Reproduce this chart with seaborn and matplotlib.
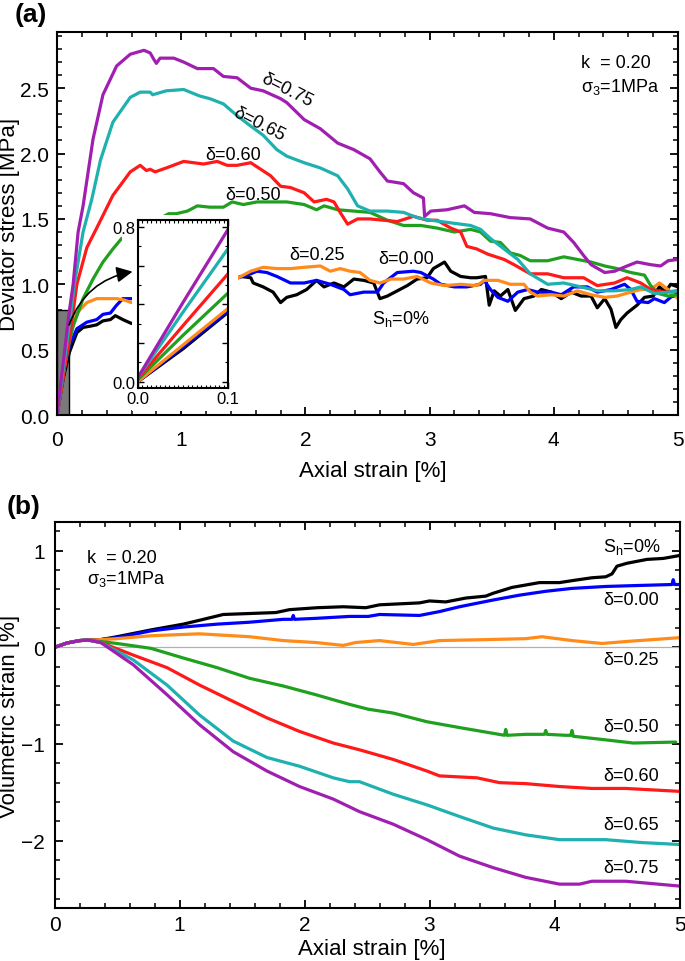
import numpy as np
import pandas as pd
import matplotlib
matplotlib.use("Agg")
import matplotlib.pyplot as plt
import seaborn as sns
from matplotlib.patches import Rectangle, FancyArrowPatch
from matplotlib.ticker import MultipleLocator, FixedLocator, FuncFormatter

# ---------------- series definitions ----------------
names = ["Sh=0%", "d=0.00", "d=0.25", "d=0.50", "d=0.60", "d=0.65", "d=0.75"]
colors = ["#000000", "#0000FF", "#FF8C1A", "#1FA01F", "#FF1A1A", "#1FB0B0", "#A01FB0"]

# ---------------- panel (a): deviator stress ----------------
a_x_sh0 = [0, 0.05, 0.10, 0.16, 0.21, 0.27, 0.32, 0.37, 0.43, 0.47, 0.53, 0.60,
           1.48, 1.56, 1.58, 1.66, 1.74, 1.80, 1.85, 1.93, 2.01, 2.09, 2.15, 2.23, 2.31, 2.39,
           2.47, 2.55, 2.60, 2.66, 2.74, 2.82, 2.90, 2.98, 3.03, 3.12, 3.17, 3.25, 3.33, 3.38,
           3.45, 3.48, 3.52, 3.57, 3.63, 3.69, 3.76, 3.84, 3.90, 3.98, 4.06, 4.14, 4.22, 4.30,
           4.35, 4.41, 4.46, 4.50, 4.54, 4.59, 4.67, 4.73, 4.80, 4.85, 4.90, 4.94, 5.0]
a_y_sh0 = [0, 0.28, 0.48, 0.63, 0.67, 0.68, 0.69, 0.72, 0.73, 0.76, 0.73, 0.70,
           1.06, 1.05, 1.01, 0.98, 0.94, 0.86, 0.90, 0.92, 0.96, 1.03, 0.98, 1.01, 0.98, 1.04,
           1.03, 1.01, 0.89, 0.91, 0.95, 0.99, 1.04, 1.05, 1.12, 1.17, 1.10, 1.06, 1.05, 1.05,
           1.06, 0.84, 0.95, 0.91, 0.96, 0.80, 0.89, 0.91, 0.96, 0.94, 0.89, 0.94, 0.91, 0.91,
           0.82, 0.89, 0.81, 0.67, 0.73, 0.78, 0.84, 0.90, 0.91, 0.98, 0.94, 1.00, 0.98]

a_x_d000 = [0, 0.05, 0.10, 0.16, 0.24, 0.32, 0.37, 0.43, 0.48, 0.53, 0.60,
            1.46, 1.56, 1.61, 1.69, 1.77, 1.88, 1.99, 2.09, 2.20, 2.31, 2.36, 2.47, 2.58, 2.63,
            2.74, 2.87, 2.93, 3.03, 3.09, 3.20, 3.30, 3.41, 3.44, 3.49, 3.55, 3.63, 3.71, 3.79,
            3.87, 3.98, 4.06, 4.16, 4.27, 4.35, 4.46, 4.57, 4.62, 4.67, 4.76, 4.81, 4.89, 4.94, 5.0]
a_y_d000 = [0, 0.33, 0.53, 0.66, 0.71, 0.73, 0.77, 0.78, 0.84, 0.89, 0.89,
            1.05, 1.08, 1.10, 1.09, 1.06, 1.01, 1.01, 1.03, 1.00, 0.96, 0.92, 0.94, 0.94, 1.01,
            1.09, 1.10, 1.09, 1.04, 1.00, 0.98, 0.98, 1.00, 1.03, 0.96, 0.90, 0.87, 0.94, 0.96,
            0.94, 0.94, 0.92, 0.98, 0.98, 0.94, 0.96, 1.00, 0.96, 0.87, 0.86, 0.89, 0.86, 0.90, 0.94]

a_x_d025 = [0, 0.05, 0.10, 0.16, 0.24, 0.32, 0.40, 0.48, 0.54, 0.60,
            1.46, 1.56, 1.66, 1.77, 1.88, 1.99, 2.12, 2.20, 2.28, 2.36, 2.44, 2.52, 2.60, 2.69,
            2.79, 2.90, 3.01, 3.12, 3.25, 3.38, 3.44, 3.55, 3.65, 3.76, 3.81, 3.87, 3.98, 4.08,
            4.19, 4.30, 4.41, 4.51, 4.62, 4.70, 4.78, 4.85, 4.92, 5.0]
a_y_d025 = [0, 0.30, 0.60, 0.78, 0.86, 0.89, 0.89, 0.89, 0.88, 0.86,
            1.05, 1.10, 1.13, 1.12, 1.12, 1.13, 1.14, 1.10, 1.12, 1.10, 1.09, 1.03, 1.01, 1.04,
            1.04, 1.06, 1.01, 0.99, 1.00, 0.99, 1.03, 1.03, 1.00, 1.00, 0.94, 0.91, 0.92, 0.91,
            0.95, 0.92, 0.90, 0.91, 0.94, 0.96, 0.96, 1.01, 0.96, 0.89]

a_x_d050 = [0, 0.05, 0.10, 0.13, 0.21, 0.29, 0.37, 0.45, 0.52,
            0.90, 0.96, 1.05, 1.13, 1.23, 1.34, 1.41, 1.50, 1.61, 1.72, 1.85, 1.99, 2.09, 2.15,
            2.26, 2.39, 2.52, 2.66, 2.79, 2.93, 3.06, 3.20, 3.33, 3.41, 3.49, 3.57, 3.65, 3.73,
            3.81, 3.95, 4.08, 4.19, 4.30, 4.41, 4.51, 4.62, 4.73, 4.78, 4.84, 4.92, 5.0]
a_y_d050 = [0, 0.33, 0.56, 0.68, 0.89, 1.04, 1.17, 1.27, 1.35,
            1.54, 1.54, 1.56, 1.60, 1.59, 1.59, 1.63, 1.61, 1.63, 1.63, 1.63, 1.61, 1.57, 1.60,
            1.57, 1.56, 1.55, 1.49, 1.45, 1.45, 1.43, 1.40, 1.42, 1.40, 1.33, 1.32, 1.24, 1.22,
            1.18, 1.18, 1.21, 1.19, 1.17, 1.14, 1.12, 1.09, 1.07, 0.99, 0.93, 0.91, 0.92]

a_x_d060 = [0, 0.05, 0.10, 0.16, 0.24, 0.33, 0.45, 0.59, 0.67, 0.72, 0.75, 0.79, 0.88,
            1.02, 1.10, 1.18, 1.29, 1.37, 1.45, 1.56, 1.64, 1.72, 1.80, 1.88, 1.99, 2.07, 2.17,
            2.23, 2.28, 2.34, 2.42, 2.52, 2.63, 2.74, 2.87, 2.98, 3.06, 3.17, 3.25, 3.30, 3.38,
            3.47, 3.60, 3.68, 3.81, 3.95, 4.08, 4.24, 4.35, 4.49, 4.59, 4.70, 4.78, 4.89, 5.0]
a_y_d060 = [0, 0.30, 0.58, 1.00, 1.28, 1.45, 1.68, 1.86, 1.91, 1.87, 1.88, 1.86, 1.89,
            1.94, 1.93, 1.92, 1.94, 1.91, 1.91, 1.93, 1.88, 1.83, 1.75, 1.74, 1.70, 1.63, 1.65,
            1.63, 1.55, 1.46, 1.50, 1.50, 1.49, 1.48, 1.52, 1.49, 1.49, 1.43, 1.40, 1.29, 1.27,
            1.23, 1.19, 1.15, 1.08, 1.08, 1.05, 1.05, 0.99, 1.01, 1.05, 1.01, 0.96, 0.94, 0.95]

a_x_d065 = [0, 0.05, 0.10, 0.14, 0.21, 0.28, 0.35, 0.45, 0.59, 0.67, 0.75, 0.77, 0.88,
            1.02, 1.15, 1.23, 1.34, 1.45, 1.56, 1.66, 1.77, 1.85, 1.99, 2.12, 2.26, 2.34, 2.42,
            2.52, 2.66, 2.79, 2.90, 3.01, 3.17, 3.33, 3.41, 3.49, 3.60, 3.71, 3.81, 3.95, 4.08,
            4.22, 4.35, 4.49, 4.62, 4.70, 4.81, 4.92, 5.0]
a_y_d065 = [0, 0.35, 0.70, 1.00, 1.40, 1.65, 1.95, 2.24, 2.43, 2.47, 2.47, 2.45, 2.48,
            2.49, 2.44, 2.42, 2.38, 2.29, 2.21, 2.14, 2.03, 1.98, 1.93, 1.89, 1.83, 1.73, 1.60,
            1.56, 1.56, 1.55, 1.51, 1.49, 1.47, 1.45, 1.42, 1.35, 1.27, 1.19, 1.08, 1.00, 1.01,
            0.98, 0.95, 0.95, 0.96, 0.98, 0.93, 0.94, 0.95]

a_x_d075 = [0, 0.05, 0.10, 0.13, 0.17, 0.21, 0.29, 0.37, 0.48, 0.59, 0.70, 0.75, 0.78,
            0.80, 0.83, 0.94, 1.02, 1.13, 1.26, 1.34, 1.45, 1.56, 1.66, 1.80, 1.85, 1.99, 2.12,
            2.26, 2.39, 2.52, 2.60, 2.66, 2.79, 2.87, 2.95, 2.96, 3.01, 3.14, 3.28, 3.36, 3.49,
            3.65, 3.81, 3.95, 4.08, 4.16, 4.24, 4.30, 4.41, 4.49, 4.59, 4.67, 4.78, 4.86, 4.92, 5.0]
a_y_d075 = [0, 0.40, 0.80, 1.00, 1.40, 1.60, 2.11, 2.45, 2.67, 2.76, 2.79, 2.77, 2.72,
            2.69, 2.73, 2.73, 2.70, 2.65, 2.65, 2.59, 2.58, 2.50, 2.48, 2.42, 2.39, 2.26, 2.19,
            2.08, 2.03, 1.96, 1.86, 1.79, 1.77, 1.70, 1.66, 1.52, 1.56, 1.57, 1.60, 1.55, 1.54,
            1.51, 1.50, 1.43, 1.40, 1.32, 1.22, 1.15, 1.09, 1.10, 1.14, 1.17, 1.15, 1.14, 1.18, 1.19]

# ---------------- inset (initial part of panel a) ----------------
in_x = [0, 0.05, 0.10]
in_y_sh0 = [0.0, 0.17, 0.36]
in_y_d000 = [0.0, 0.18, 0.367]
in_y_d025 = [0.0, 0.19, 0.38]
in_y_d050 = [0.01, 0.24, 0.46]
in_y_d060 = [0.015, 0.29, 0.56]
in_y_d065 = [0.02, 0.36, 0.69]
in_y_d075 = [0.02, 0.41, 0.79]

# ---------------- panel (b): volumetric strain ----------------
b_x_sh0 = [0, 0.1, 0.2, 0.27, 0.37, 0.5, 0.77, 1.03, 1.16, 1.35, 1.56, 1.77, 1.88, 2.1, 2.31,
           2.49, 2.60, 2.92, 3.0, 3.13, 3.29, 3.45, 3.51, 3.66, 3.88, 4.04, 4.14, 4.30, 4.41,
           4.46, 4.50, 4.58, 4.74, 4.87, 5.0]
b_y_sh0 = [0, 0.045, 0.07, 0.075, 0.08, 0.11, 0.18, 0.24, 0.28, 0.34, 0.35, 0.36, 0.39, 0.41,
           0.42, 0.41, 0.44, 0.46, 0.48, 0.47, 0.51, 0.53, 0.56, 0.62, 0.67, 0.67, 0.69, 0.72,
           0.73, 0.76, 0.84, 0.87, 0.91, 0.92, 0.95]

b_x_d000 = [0, 0.1, 0.2, 0.27, 0.37, 0.5, 0.77, 1.03, 1.30, 1.56, 1.83, 1.90, 1.91, 1.92, 2.09,
            2.36, 2.51, 2.60, 2.92, 3.08, 3.24, 3.51, 3.72, 3.93, 4.14, 4.41, 4.67, 4.94, 4.95,
            4.96, 5.0]
b_y_d000 = [0, 0.045, 0.07, 0.075, 0.08, 0.10, 0.17, 0.21, 0.24, 0.26, 0.29, 0.29, 0.33, 0.29,
            0.30, 0.32, 0.32, 0.34, 0.33, 0.37, 0.42, 0.49, 0.54, 0.58, 0.61, 0.63, 0.64, 0.65,
            0.70, 0.65, 0.65]

b_x_d025 = [0, 0.1, 0.2, 0.27, 0.37, 0.5, 0.77, 1.16, 1.56, 1.83, 2.09, 2.31, 2.41, 2.60, 2.87,
            3.08, 3.45, 3.77, 3.90, 4.14, 4.38, 4.57, 5.0]
b_y_d025 = [0, 0.045, 0.07, 0.075, 0.08, 0.09, 0.12, 0.14, 0.11, 0.07, 0.05, 0.02, 0.05, 0.07,
            0.03, 0.07, 0.08, 0.09, 0.11, 0.07, 0.04, 0.06, 0.10]

b_x_d050 = [0, 0.1, 0.2, 0.27, 0.37, 0.5, 0.77, 1.03, 1.30, 1.56, 1.83, 2.09, 2.36, 2.51, 2.71,
            2.98, 3.24, 3.51, 3.60, 3.61, 3.62, 3.77, 3.92, 3.93, 3.94, 4.09, 4.13, 4.14, 4.15,
            4.36, 4.63, 4.97]
b_y_d050 = [0, 0.045, 0.07, 0.075, 0.06, 0.04, -0.01, -0.11, -0.21, -0.32, -0.40, -0.49, -0.59,
            -0.64, -0.68, -0.77, -0.83, -0.89, -0.91, -0.85, -0.91, -0.90, -0.90, -0.86, -0.90,
            -0.91, -0.91, -0.86, -0.92, -0.95, -0.99, -0.98]

b_x_d060 = [0, 0.1, 0.2, 0.27, 0.37, 0.63, 0.90, 1.16, 1.43, 1.70, 1.96, 2.23, 2.44, 2.71, 2.98,
            3.08, 3.38, 3.56, 3.77, 4.04, 4.30, 4.57, 5.0]
b_y_d060 = [0, 0.045, 0.07, 0.075, 0.05, -0.08, -0.21, -0.39, -0.56, -0.73, -0.87, -0.99,
            -1.06, -1.16, -1.28, -1.33, -1.35, -1.40, -1.41, -1.44, -1.46, -1.46, -1.49]

b_x_d065 = [0, 0.1, 0.2, 0.27, 0.37, 0.63, 0.90, 1.16, 1.43, 1.70, 1.96, 2.23, 2.36, 2.44, 2.71,
            2.98, 3.24, 3.51, 3.77, 4.04, 4.41, 4.70, 5.0]
b_y_d065 = [0, 0.045, 0.07, 0.075, 0.05, -0.13, -0.39, -0.70, -0.97, -1.14, -1.23, -1.35,
            -1.39, -1.39, -1.52, -1.63, -1.75, -1.87, -1.94, -1.99, -1.99, -2.02, -2.04]

b_x_d075 = [0, 0.1, 0.2, 0.27, 0.37, 0.63, 0.90, 1.16, 1.43, 1.70, 1.96, 2.23, 2.44, 2.71, 2.98,
            3.24, 3.51, 3.77, 4.04, 4.20, 4.30, 4.57, 5.0]
b_y_d075 = [0, 0.045, 0.07, 0.075, 0.05, -0.18, -0.49, -0.80, -1.08, -1.28, -1.44, -1.57,
            -1.70, -1.83, -1.99, -2.16, -2.28, -2.38, -2.45, -2.45, -2.42, -2.42, -2.47]

# ---------------- text labels ----------------
a_label_text = ["δ=0.75", "δ=0.65", "δ=0.60", "δ=0.50", "δ=0.25", "δ=0.00"]
b_label_text = ["S$_\\mathrm{h}$=0%", "δ=0.00", "δ=0.25", "δ=0.50", "δ=0.60", "δ=0.65", "δ=0.75"]


def long_frame(xs_list, ys_list):
    frames = []
    for nm, xs, ys in zip(names, xs_list, ys_list):
        frames.append(pd.DataFrame({"x": xs, "y": ys, "series": nm}))
    return pd.concat(frames, ignore_index=True)


df_a = long_frame([a_x_sh0, a_x_d000, a_x_d025, a_x_d050, a_x_d060, a_x_d065, a_x_d075],
                  [a_y_sh0, a_y_d000, a_y_d025, a_y_d050, a_y_d060, a_y_d065, a_y_d075])
df_in = long_frame([in_x] * 7,
                   [in_y_sh0, in_y_d000, in_y_d025, in_y_d050, in_y_d060, in_y_d065, in_y_d075])
df_b = long_frame([b_x_sh0, b_x_d000, b_x_d025, b_x_d050, b_x_d060, b_x_d065, b_x_d075],
                  [b_y_sh0, b_y_d000, b_y_d025, b_y_d050, b_y_d060, b_y_d065, b_y_d075])

# ---------------- style ----------------
sns.set_theme(style="ticks")
plt.rcParams["font.family"] = ["Liberation Sans", "DejaVu Sans"]
plt.rcParams["mathtext.fontset"] = "custom"
plt.rcParams["mathtext.rm"] = "Liberation Sans"
plt.rcParams["mathtext.it"] = "Liberation Sans:italic"
plt.rcParams["axes.edgecolor"] = "black"
plt.rcParams["axes.linewidth"] = 1.5
plt.rcParams["xtick.color"] = "black"
plt.rcParams["ytick.color"] = "black"
plt.rcParams["text.color"] = "black"
plt.rcParams["axes.labelcolor"] = "black"

palette = dict(zip(names, colors))
LW = 2.3
TICK_FS = 15
LABEL_FS = 16
ANN_FS = 13

fig = plt.figure(figsize=(6.85, 9.62), dpi=100)
axA = fig.add_axes([57 / 685, 1 - 416 / 962, (678 - 57) / 685, (416 - 33) / 962])
axB = fig.add_axes([54.5 / 685, 1 - 909.3 / 962, (679.5 - 54.5) / 685, (909.3 - 522.7) / 962])


def style_axes(ax, xpad, ypad):
    ax.tick_params(which="both", direction="in", top=True, right=True,
                   color="black", labelsize=TICK_FS)
    ax.tick_params(which="major", length=6, width=1.3)
    ax.tick_params(which="minor", length=3.5, width=1.1)
    ax.tick_params(axis="x", which="both", pad=xpad)
    ax.tick_params(axis="y", which="both", pad=ypad)
    for sp in ax.spines.values():
        sp.set_linewidth(1.5)
        sp.set_color("black")


# ---- panel (a)
axA.add_patch(Rectangle((0, 0), 0.1, 0.8, facecolor="#7a7a7a", edgecolor="black",
                        lw=1.0, zorder=1.5))
sns.lineplot(data=df_a, x="x", y="y", hue="series", hue_order=names, palette=palette,
             sort=False, estimator=None, lw=LW, legend=False, ax=axA)
axA.set_xlim(0, 5)
axA.set_ylim(0, 2.93)
axA.xaxis.set_major_locator(MultipleLocator(1))
axA.xaxis.set_minor_locator(MultipleLocator(0.2))
axA.yaxis.set_major_locator(MultipleLocator(0.5))
axA.yaxis.set_minor_locator(MultipleLocator(0.1))
axA.xaxis.set_major_formatter(FuncFormatter(lambda v, p: f"{v:.0f}"))
axA.yaxis.set_major_formatter(FuncFormatter(lambda v, p: f"{v:.1f}"))
style_axes(axA, 11, 5.5)
axA.set_xlabel("Axial strain [%]", fontsize=LABEL_FS)
axA.set_ylabel("Deviator stress [MPa]", fontsize=LABEL_FS)
axA.xaxis.label.set_va("center")
axA.yaxis.label.set_va("center")
axA.xaxis.set_label_coords(0.508, -(471 - 416) / 383)
axA.yaxis.set_label_coords(-(57 - 10) / 621, 0.5)

# white areas covered by the inset layer
axA.add_patch(Rectangle((0.605, 0.03), 1.46 - 0.605, 1.53 - 0.03, facecolor="white",
                        edgecolor="none", zorder=4))
axA.add_patch(Rectangle((0.525, 1.30), 0.605 - 0.525, 1.53 - 1.30, facecolor="white",
                        edgecolor="none", zorder=4))

arrow = FancyArrowPatch((0.09, 0.67), (0.63, 1.10), connectionstyle="arc3,rad=-0.3",
                        arrowstyle="-|>", mutation_scale=24, lw=1.2, color="black", zorder=6)
axA.add_patch(arrow)

axA.text(1.85, 2.49, a_label_text[0], rotation=-27, ha="center", va="center",
         fontsize=ANN_FS, rotation_mode="anchor")
axA.text(1.63, 2.23, a_label_text[1], rotation=-27, ha="center", va="center",
         fontsize=ANN_FS, rotation_mode="anchor")
axA.text(1.42, 1.99, a_label_text[2], ha="center", va="center", fontsize=ANN_FS)
axA.text(1.575, 1.69, a_label_text[3], ha="center", va="center", fontsize=ANN_FS)
axA.text(2.09, 1.23, a_label_text[4], ha="center", va="center", fontsize=ANN_FS)
axA.text(2.81, 1.20, a_label_text[5], ha="center", va="center", fontsize=ANN_FS)
axA.text(2.77, 0.74, "S$_\\mathrm{h}$=0%", ha="center", va="center", fontsize=ANN_FS)
axA.text(4.22, 2.70, "k  = 0.20", ha="left", va="center", fontsize=ANN_FS)
axA.text(4.22, 2.52, "σ$_\\mathrm{3}$=1MPa", ha="left", va="center", fontsize=ANN_FS)

# ---- inset
axI = fig.add_axes([137.7 / 685, 1 - 389.3 / 962, (228.3 - 137.7) / 685,
                    (389.3 - 220.7) / 962], zorder=10)
axI.set_facecolor("white")
sns.lineplot(data=df_in, x="x", y="y", hue="series", hue_order=names, palette=palette,
             sort=False, estimator=None, lw=LW, legend=False, ax=axI)
axI.set_xlim(0, 0.1)
axI.set_ylim(-0.034, 0.838)
axI.xaxis.set_major_locator(FixedLocator([0.0, 0.1]))
axI.xaxis.set_minor_locator(MultipleLocator(0.005))
axI.yaxis.set_major_locator(MultipleLocator(0.2))
axI.yaxis.set_minor_locator(MultipleLocator(0.1))
axI.xaxis.set_major_formatter(FuncFormatter(lambda v, p: f"{v:.1f}"))
axI.yaxis.set_major_formatter(FuncFormatter(
    lambda v, p: f"{v:.1f}" if (abs(v) < 1e-9 or abs(v - 0.8) < 1e-9) else ""))
axI.tick_params(which="both", direction="in", top=True, right=True, color="black",
                labelsize=12)
axI.tick_params(which="major", length=4, width=1.0, pad=2)
axI.tick_params(which="minor", length=2, width=0.8)
for sp in axI.spines.values():
    sp.set_linewidth(1.5)
axI.set_xlabel("")
axI.set_ylabel("")

# ---- panel (b)
axB.axhline(0, color="#b0b0b0", lw=0.9, zorder=1)
sns.lineplot(data=df_b, x="x", y="y", hue="series", hue_order=names, palette=palette,
             sort=False, estimator=None, lw=LW, legend=False, ax=axB)
axB.set_xlim(0, 5)
axB.set_ylim(-2.7, 1.3)
axB.xaxis.set_major_locator(MultipleLocator(1))
axB.xaxis.set_minor_locator(MultipleLocator(0.2))
axB.yaxis.set_major_locator(MultipleLocator(1))
axB.yaxis.set_minor_locator(MultipleLocator(0.2))
axB.xaxis.set_major_formatter(FuncFormatter(lambda v, p: f"{v:.0f}"))
axB.yaxis.set_major_formatter(FuncFormatter(
    lambda v, p: ("\u2212" if v < -1e-9 else "") + f"{abs(v):.0f}"))
style_axes(axB, 5, 6.8)
axB.set_xlabel("Axial strain [%]", fontsize=LABEL_FS)
axB.set_ylabel("Volumetric strain [%]", fontsize=LABEL_FS)
axB.xaxis.label.set_va("center")
axB.yaxis.label.set_va("center")
axB.xaxis.set_label_coords(0.508, -(950 - 909.3) / 386.6)
axB.yaxis.set_label_coords(-(54.5 - 10) / 625, 0.5)

axB.text(0.26, 0.93, "k  = 0.20", ha="left", va="center", fontsize=ANN_FS)
axB.text(0.26, 0.72, "σ$_\\mathrm{3}$=1MPa", ha="left", va="center", fontsize=ANN_FS)
b_label_y = [1.045, 0.49, -0.13, -0.82, -1.33, -1.83, -2.28]
for txt, yy in zip(b_label_text, b_label_y):
    axB.text(4.39, yy, txt, ha="left", va="center", fontsize=ANN_FS)

# panel letters
fig.text(15 / 685, 1 - 15 / 962, "(a)", fontsize=19, fontweight="bold", ha="left", va="center")
fig.text(7 / 685, 1 - 507 / 962, "(b)", fontsize=19, fontweight="bold", ha="left", va="center")

fig.savefig("out.png", dpi=100)
